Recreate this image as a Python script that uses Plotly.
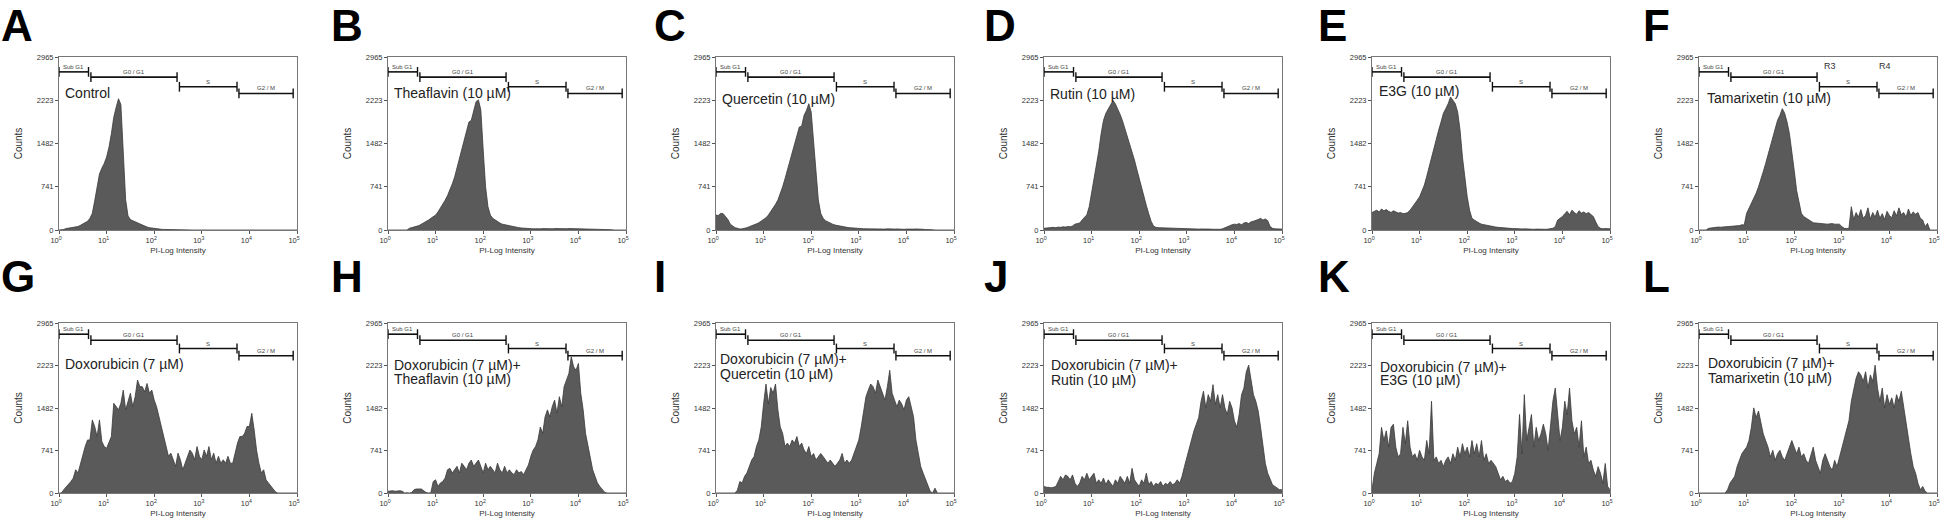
import plotly.graph_objects as go

# ---------------- data ----------------
BIN_WIDTH = 0.05      # decades between histogram channels
LOG_START = 0.0       # first channel = 10^0

COUNTS_A = [0, 0, 10, 25, 30, 40, 45, 55, 60, 80,
            100, 120, 150, 200, 285, 500, 740, 960, 1060, 1140,
            1250, 1420, 1650, 1930, 2100, 2250, 2150, 1350, 520, 240,
            180, 160, 140, 120, 100, 80, 60, 50, 40, 32,
            28, 20, 15, 12, 10, 8, 6, 5, 4, 3,
            2, 0, 0, 0, 0, 0, 0, 0, 0, 0,
            0, 0, 0, 0, 0, 0, 0, 0, 0, 0,
            0, 0, 0, 0, 0, 0, 0, 0, 0, 0,
            0, 0, 0, 0, 0, 0, 0, 0, 0, 0,
            0, 0, 0, 0, 0, 0, 0, 0, 0, 0,
            0]
COUNTS_B = [0, 0, 0, 0, 0, 0, 0, 0, 0, 30,
            40, 50, 57, 75, 100, 120, 140, 170, 200, 230,
            255, 310, 370, 440, 510, 590, 680, 790, 910, 1060,
            1225, 1380, 1540, 1700, 1850, 1880, 2050, 2200, 2230, 2060,
            1370, 740, 400, 255, 200, 170, 140, 120, 100, 90,
            80, 68, 57, 50, 45, 40, 35, 30, 28, 25,
            22, 20, 22, 18, 20, 24, 20, 18, 22, 20,
            25, 22, 20, 18, 20, 22, 25, 24, 26, 28,
            30, 26, 28, 25, 22, 25, 24, 22, 18, 15,
            12, 10, 10, 8, 5, 0, 0, 0, 0, 0,
            0]
COUNTS_C = [255, 250, 285, 280, 230, 180, 100, 70, 40, 30,
            17, 20, 28, 40, 57, 70, 85, 105, 125, 150,
            170, 210, 255, 310, 370, 440, 513, 620, 740, 880,
            1025, 1180, 1340, 1500, 1650, 1765, 1780, 1965, 2050, 2165,
            2020, 1540, 910, 513, 285, 200, 160, 135, 115, 100,
            85, 75, 68, 60, 52, 45, 40, 35, 30, 28,
            28, 25, 22, 20, 18, 20, 15, 18, 20, 15,
            18, 15, 20, 15, 12, 15, 18, 12, 15, 12,
            15, 12, 10, 15, 18, 12, 10, 12, 8, 10,
            8, 5, 0, 0, 0, 0, 0, 0, 0, 0,
            0]
COUNTS_D = [30, 35, 40, 38, 45, 40, 50, 45, 55, 50,
            60, 55, 70, 100, 110, 120, 170, 220, 260, 400,
            630, 880, 1100, 1350, 1650, 1880, 2000, 2080, 2160, 2220,
            2160, 2080, 1980, 1870, 1740, 1600, 1480, 1340, 1200, 1040,
            880, 700, 560, 420, 280, 150, 70, 45, 40, 38,
            35, 40, 32, 30, 35, 28, 30, 25, 28, 22,
            25, 20, 22, 18, 20, 15, 18, 20, 15, 12,
            15, 12, 10, 15, 12, 20, 40, 60, 80, 90,
            100, 95, 110, 90, 120, 130, 110, 140, 150, 160,
            180, 200, 170, 190, 160, 60, 30, 20, 15, 20,
            15]
COUNTS_E = [300, 320, 340, 310, 360, 330, 350, 320, 300, 330,
            310, 290, 300, 280, 285, 300, 340, 390, 456, 510,
            570, 660, 770, 920, 1080, 1250, 1425, 1570, 1710, 1850,
            2000, 2080, 2165, 2280, 2220, 2165, 2020, 1710, 1250, 855,
            570, 340, 200, 170, 140, 120, 100, 90, 80, 70,
            60, 55, 50, 45, 40, 35, 30, 28, 25, 25,
            25, 20, 22, 18, 20, 15, 18, 15, 12, 15,
            12, 15, 10, 12, 15, 18, 30, 57, 170, 200,
            230, 280, 320, 260, 340, 300, 270, 330, 290, 310,
            280, 300, 260, 230, 140, 57, 30, 20, 25, 20,
            20]
COUNTS_F = [0, 0, 0, 0, 28, 35, 40, 45, 50, 48,
            50, 55, 52, 60, 58, 65, 70, 75, 90, 85,
            285, 370, 456, 540, 630, 740, 855, 1000, 1140, 1280,
            1425, 1570, 1710, 1880, 1965, 2080, 2000, 1850, 1650, 1370,
            1025, 680, 456, 285, 230, 200, 170, 150, 125, 120,
            115, 110, 105, 110, 100, 105, 110, 100, 105, 100,
            60, 30, 25, 30, 400, 180, 300, 220, 350, 200,
            250, 380, 190, 300, 220, 340, 200, 280, 180, 320,
            250, 210, 330, 240, 380, 260, 300, 220, 360, 250,
            310, 270, 300, 200, 170, 57, 115, 0, 0, 0,
            0]
COUNTS_G = [0, 0, 58, 100, 145, 200, 260, 405, 350, 520,
            640, 810, 925, 925, 1275, 1160, 985, 1275, 900, 810,
            780, 870, 985, 1565, 1505, 1450, 1565, 1795, 1450, 1620,
            1740, 1505, 1680, 1970, 1855, 1855, 1765, 1910, 1740, 1795,
            1620, 1505, 1330, 1160, 985, 810, 640, 695, 580, 465,
            695, 580, 405, 520, 640, 750, 695, 580, 810, 640,
            580, 750, 640, 810, 580, 695, 520, 640, 520, 580,
            520, 640, 520, 520, 695, 870, 985, 985, 1040, 1160,
            1160, 1390, 1100, 750, 520, 350, 405, 230, 175, 115,
            58, 17, 0, 0, 0, 0, 0, 0, 0, 0,
            0]
COUNTS_H = [30, 35, 40, 30, 35, 40, 30, 0, 5, 0,
            10, 60, 70, 70, 70, 40, 10, 0, 5, 200,
            230, 115, 175, 200, 260, 405, 430, 350, 405, 465,
            350, 520, 465, 405, 520, 575, 465, 520, 575, 465,
            350, 520, 405, 465, 405, 350, 520, 405, 350, 465,
            350, 405, 350, 320, 405, 350, 375, 320, 405, 490,
            635, 750, 810, 925, 1150, 1040, 1330, 1450, 1330, 1505,
            1620, 1390, 1680, 1505, 1855, 1970, 2085, 2375, 2200, 2140,
            2260, 1740, 1450, 1040, 810, 575, 405, 290, 175, 115,
            58, 15, 0, 0, 0, 0, 0, 0, 0, 0,
            0]
COUNTS_I = [0, 0, 0, 0, 0, 0, 0, 0, 0, 50,
            200, 175, 290, 350, 465, 575, 635, 810, 925, 1150,
            1555, 1900, 1555, 1840, 1740, 1900, 1450, 1150, 1040, 810,
            870, 810, 925, 870, 985, 810, 870, 750, 690, 810,
            635, 690, 575, 635, 690, 635, 575, 520, 575, 520,
            465, 520, 575, 690, 520, 575, 520, 575, 690, 810,
            925, 1150, 1450, 1680, 1795, 1900, 1855, 1740, 1970, 1855,
            1740, 1620, 1855, 2140, 1740, 1620, 1505, 1620, 1555, 1450,
            1620, 1680, 1505, 1330, 925, 690, 465, 350, 230, 115,
            30, 0, 85, 0, 0, 0, 0, 0, 0, 0,
            0]
COUNTS_J = [115, 100, 100, 90, 100, 115, 200, 290, 230, 315,
            290, 230, 315, 170, 115, 170, 290, 230, 345, 230,
            290, 345, 170, 230, 170, 260, 145, 230, 170, 115,
            230, 170, 290, 230, 170, 290, 170, 430, 230, 170,
            115, 230, 170, 345, 145, 200, 115, 170, 145, 200,
            115, 170, 145, 200, 145, 170, 230, 170, 290, 460,
            630, 800, 970, 1085, 1200, 1315, 1600, 1775, 1485, 1715,
            1600, 1890, 1545, 1715, 1485, 1715, 1485, 1370, 1600, 1485,
            1260, 1145, 1370, 1715, 1830, 2115, 2230, 1945, 1715, 1600,
            1430, 1145, 800, 515, 345, 230, 145, 115, 85, 57,
            57]
COUNTS_K = [57, 345, 515, 685, 1145, 915, 1085, 800, 1145, 1200,
            800, 630, 685, 1145, 860, 1260, 800, 630, 685, 570,
            745, 630, 570, 915, 685, 1600, 570, 630, 515, 570,
            460, 570, 630, 515, 685, 570, 800, 630, 860, 685,
            800, 630, 915, 685, 860, 630, 915, 570, 685, 515,
            570, 515, 460, 345, 230, 290, 200, 230, 170, 200,
            345, 630, 1370, 685, 1715, 915, 1145, 1370, 800, 1145,
            915, 1030, 1200, 1030, 745, 1145, 1600, 1830, 1315, 915,
            1145, 1600, 1370, 1830, 1260, 1030, 1145, 800, 1260, 630,
            800, 515, 570, 400, 290, 460, 345, 170, 515, 115,
            57]
COUNTS_L = [0, 0, 0, 0, 0, 0, 0, 0, 0, 0,
            0, 0, 57, 170, 230, 290, 460, 570, 685, 745,
            800, 915, 1145, 1485, 1315, 1430, 1200, 1030, 915, 800,
            630, 745, 570, 685, 745, 630, 570, 685, 800, 915,
            800, 685, 800, 630, 685, 570, 515, 685, 800, 570,
            460, 345, 570, 685, 570, 460, 400, 570, 460, 630,
            800, 915, 1085, 1260, 1600, 1830, 2000, 2115, 2060, 1945,
            2115, 1830, 2060, 1945, 2230, 1830, 1600, 1830, 1485, 1715,
            1545, 1660, 1485, 1715, 1600, 1775, 1485, 1260, 915, 685,
            460, 345, 170, 57, 115, 30, 0, 0, 0, 0,
            0]

ALL_COUNTS = [COUNTS_A, COUNTS_B, COUNTS_C, COUNTS_D, COUNTS_E, COUNTS_F,
              COUNTS_G, COUNTS_H, COUNTS_I, COUNTS_J, COUNTS_K, COUNTS_L]

PANEL_LETTERS = ["A", "B", "C", "D", "E", "F", "G", "H", "I", "J", "K", "L"]
LABEL_LINE1 = ["Control", "Theaflavin (10 µM)", "Quercetin (10 µM)", "Rutin (10 µM)",
               "E3G (10 µM)", "Tamarixetin (10 µM)",
               "Doxorubicin (7 µM)", "Doxorubicin (7 µM)+", "Doxorubicin (7 µM)+",
               "Doxorubicin (7 µM)+", "Doxorubicin (7 µM)+", "Doxorubicin (7 µM)+"]
LABEL_LINE2 = ["", "", "", "", "", "",
               "", "Theaflavin (10 µM)", "Quercetin (10 µM)", "Rutin (10 µM)",
               "E3G (10 µM)", "Tamarixetin (10 µM)"]

Y_TICKS = [0, 741, 1482, 2223, 2965]
X_TICK_EXP = [0, 1, 2, 3, 4, 5]

GATE_NAMES = ["Sub G1", "G0 / G1", "S", "G2 / M"]
GATE_LO = [0.0, 0.67, 2.53, 3.78]     # log10 intensity
GATE_HI = [0.62, 2.48, 3.74, 4.92]
GATE_Y_TOP = [2710, 2620, 2455, 2340]
GATE_Y_BOTTOM = [2770, 2665, 2520, 2395]
REGION_NAMES_F = ["R3", "R4"]
REGION_X_F = [2.76, 3.91]

# ---------------- layout / style ----------------
W, H = 1946, 530
COL_LEFT = [59, 388, 716, 1044, 1372, 1699]
PANEL_W = 238
ROW_TOP = [57, 323]
ROW_BOT = [230, 493]
LETTER_X = [0, 330, 653, 983, 1317, 1642]
LETTER_TOP = [0, 251]
TEXT_X = [0.08, 0.08, 0.08, 0.08, 0.10, 0.13, 0.09, 0.09, 0.05, 0.10, 0.12, 0.14]
TEXT_Y1 = [2349, 2349, 2250, 2325, 2383, 2270, 2246, 2230, 2332, 2230, 2200, 2260]
TEXT_Y2 = [0, 0, 0, 0, 0, 0, 0, 1990, 2073, 1975, 1975, 2000]

FONT = "Liberation Sans, Arial, sans-serif"
NARROW = "Liberation Sans Narrow, Arial Narrow, Liberation Sans, Arial, sans-serif"
FILL = "#5a5a5a"
EDGE = "#3a3a3a"

fig = go.Figure()
layout = dict(width=W, height=H, margin=dict(l=0, r=0, t=0, b=0, pad=0, autoexpand=False),
              paper_bgcolor="white", plot_bgcolor="white", showlegend=False,
              hovermode=False, font=dict(family=FONT, color="#333"))
annotations = []

for i, counts in enumerate(ALL_COUNTS):
    row, col = divmod(i, 6)
    k = i + 1
    xa = "x" if k == 1 else f"x{k}"
    ya = "y" if k == 1 else f"y{k}"
    xname = "xaxis" if k == 1 else f"xaxis{k}"
    yname = "yaxis" if k == 1 else f"yaxis{k}"

    xs = [10 ** (LOG_START + j * BIN_WIDTH) for j in range(len(counts))]
    fig.add_trace(go.Scatter(x=xs, y=counts, mode="lines", fill="tozeroy",
                             fillcolor=FILL, line=dict(color=EDGE, width=0.8),
                             xaxis=xa, yaxis=ya))

    gy = GATE_Y_TOP if row == 0 else GATE_Y_BOTTOM
    for g in range(4):
        fig.add_trace(go.Scatter(x=[10 ** GATE_LO[g], 10 ** GATE_HI[g]], y=[gy[g], gy[g]],
                                 mode="lines+markers",
                                 line=dict(color="#111", width=1.6),
                                 marker=dict(symbol="line-ns", size=7,
                                             line=dict(width=1.4, color="#111")),
                                 xaxis=xa, yaxis=ya, cliponaxis=False))
        annotations.append(dict(xref=xa, yref=ya, x=(GATE_LO[g] + GATE_HI[g]) / 2,
                                y=gy[g], yanchor="bottom", yshift=0, showarrow=False,
                                text=GATE_NAMES[g], font=dict(size=6, color="#444")))

    if i == 5:
        for t, rx in zip(REGION_NAMES_F, REGION_X_F):
            annotations.append(dict(xref=xa, yref=ya, x=rx, y=2805, showarrow=False,
                                    text=t, font=dict(size=9, color="#333")))

    annotations.append(dict(xref=xa, yref=ya, x=TEXT_X[i], y=TEXT_Y1[i], xanchor="left",
                            yanchor="middle", showarrow=False, text=LABEL_LINE1[i],
                            font=dict(size=14, color="#222")))
    if LABEL_LINE2[i]:
        annotations.append(dict(xref=xa, yref=ya, x=TEXT_X[i], y=TEXT_Y2[i], xanchor="left",
                                yanchor="middle", showarrow=False, text=LABEL_LINE2[i],
                                font=dict(size=14, color="#222")))

    annotations.append(dict(xref="paper", yref="paper", x=LETTER_X[col] / W,
                            y=1 - LETTER_TOP[row] / H, xanchor="left", yanchor="top",
                            borderpad=0, showarrow=False, text=f"<b>{PANEL_LETTERS[i]}</b>",
                            font=dict(size=44, color="black", family="Liberation Sans, Arial")))

    left = COL_LEFT[col]
    layout[xname] = dict(domain=[left / W, (left + PANEL_W) / W], anchor=ya, type="log",
                         range=[0, 5.0], tickvals=[10 ** e for e in X_TICK_EXP],
                         ticktext=[f"10<sup>{e}</sup>" for e in X_TICK_EXP],
                         ticks="outside", ticklen=3, tickcolor="#555",
                         tickfont=dict(size=7.5, family=NARROW), ticklabelshift=-3,
                         showline=True, mirror=True, linecolor="#777", linewidth=1,
                         showgrid=False, zeroline=False, automargin=False,
                         title=dict(text="PI-Log Intensity", font=dict(size=8), standoff=3))
    layout[yname] = dict(domain=[1 - ROW_BOT[row] / H, 1 - ROW_TOP[row] / H], anchor=xa,
                         range=[0, 2965], tickvals=Y_TICKS, ticks="outside", ticklen=3,
                         tickcolor="#555", tickfont=dict(size=7.5, family=NARROW),
                         automargin=False,
                         showline=True, mirror=True, linecolor="#777", linewidth=1,
                         showgrid=False, zeroline=False,
                         title=dict(text="Counts", font=dict(size=10), standoff=12))

layout["annotations"] = annotations
fig.update_layout(**layout)
fig.write_html("out.html", config={"displayModeBar": False, "staticPlot": True},
               post_script="document.body.style.margin='0px';document.body.style.overflow='hidden';")
